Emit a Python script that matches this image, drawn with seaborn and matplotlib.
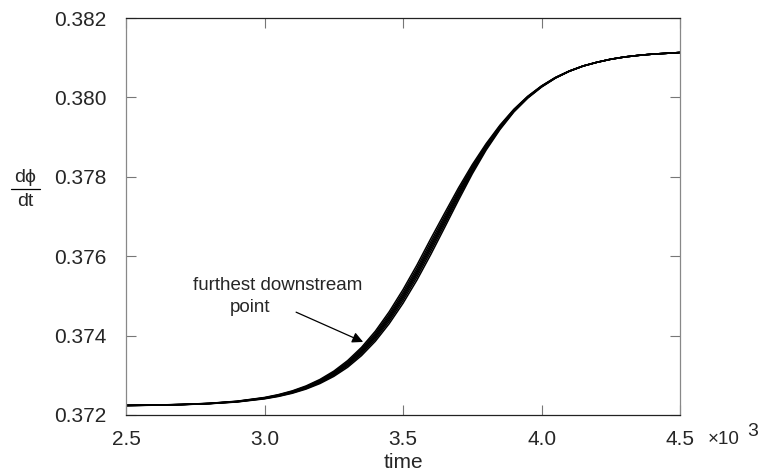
import numpy as np
import pandas as pd
import matplotlib
matplotlib.use("Agg")
import matplotlib.pyplot as plt
import seaborn as sns

# time axis in units of 10^3
time = [2.5, 2.6, 2.7, 2.8, 2.9, 3.0, 3.05, 3.1, 3.15, 3.2, 3.25, 3.3, 3.35, 3.4,
        3.45, 3.5, 3.55, 3.6, 3.65, 3.7, 3.75, 3.8, 3.85, 3.9, 3.95, 4.0, 4.05,
        4.1, 4.15, 4.2, 4.25, 4.3, 4.35, 4.4, 4.5]

curve_1 = [0.372241, 0.372250, 0.372266, 0.372294, 0.372347, 0.372441, 0.372513,
           0.372607, 0.372732, 0.372895, 0.373104, 0.373370, 0.373703, 0.374111,
           0.374600, 0.375159, 0.375775, 0.376439, 0.377083, 0.377719, 0.378307,
           0.378835, 0.379302, 0.379701, 0.380028, 0.380291, 0.380503, 0.380665,
           0.380793, 0.380885, 0.380962, 0.381019, 0.381059, 0.381090, 0.381131]
curve_2 = [0.372241, 0.372249, 0.372265, 0.372292, 0.372343, 0.372434, 0.372504,
           0.372595, 0.372716, 0.372874, 0.373078, 0.373336, 0.373662, 0.374060,
           0.374540, 0.375090, 0.375699, 0.376360, 0.377011, 0.377657, 0.378261,
           0.378803, 0.379280, 0.379687, 0.380019, 0.380285, 0.380499, 0.380664,
           0.380792, 0.380885, 0.380962, 0.381019, 0.381059, 0.381090, 0.381131]
curve_3 = [0.372240, 0.372248, 0.372264, 0.372290, 0.372340, 0.372429, 0.372496,
           0.372585, 0.372703, 0.372857, 0.373056, 0.373308, 0.373627, 0.374018,
           0.374490, 0.375033, 0.375636, 0.376293, 0.376950, 0.377605, 0.378222,
           0.378776, 0.379262, 0.379676, 0.380011, 0.380280, 0.380496, 0.380662,
           0.380791, 0.380885, 0.380962, 0.381019, 0.381059, 0.381090, 0.381131]
curve_4 = [0.372240, 0.372248, 0.372263, 0.372289, 0.372337, 0.372424, 0.372490,
           0.372577, 0.372692, 0.372843, 0.373038, 0.373286, 0.373599, 0.373984,
           0.374450, 0.374987, 0.375586, 0.376240, 0.376902, 0.377564, 0.378191,
           0.378755, 0.379247, 0.379667, 0.380005, 0.380276, 0.380494, 0.380661,
           0.380791, 0.380885, 0.380962, 0.381019, 0.381059, 0.381090, 0.381131]
curve_5 = [0.372240, 0.372248, 0.372262, 0.372288, 0.372334, 0.372419, 0.372484,
           0.372569, 0.372681, 0.372829, 0.373020, 0.373264, 0.373571, 0.373950,
           0.374410, 0.374941, 0.375536, 0.376187, 0.376854, 0.377523, 0.378160,
           0.378734, 0.379232, 0.379658, 0.379999, 0.380272, 0.380492, 0.380660,
           0.380791, 0.380885, 0.380962, 0.381019, 0.381059, 0.381090, 0.381131]
curve_6 = [0.372239, 0.372247, 0.372261, 0.372286, 0.372331, 0.372414, 0.372476,
           0.372559, 0.372668, 0.372812, 0.372998, 0.373236, 0.373536, 0.373908,
           0.374360, 0.374884, 0.375473, 0.376121, 0.376794, 0.377471, 0.378121,
           0.378707, 0.379214, 0.379647, 0.379991, 0.380267, 0.380489, 0.380658,
           0.380790, 0.380885, 0.380962, 0.381019, 0.381059, 0.381090, 0.381131]
curve_7 = [0.372239, 0.372246, 0.372260, 0.372284, 0.372327, 0.372407, 0.372467,
           0.372547, 0.372653, 0.372792, 0.372972, 0.373202, 0.373495, 0.373857,
           0.374300, 0.374815, 0.375397, 0.376041, 0.376721, 0.377409, 0.378075,
           0.378675, 0.379192, 0.379633, 0.379982, 0.380261, 0.380485, 0.380657,
           0.380789, 0.380885, 0.380962, 0.381019, 0.381059, 0.381090, 0.381131]

curves = [curve_1, curve_2, curve_3, curve_4, curve_5, curve_6, curve_7]

df = pd.concat(
    [pd.DataFrame({"time": time, "dphidt": c, "point": i}) for i, c in enumerate(curves)],
    ignore_index=True,
)

sns.set_style("ticks")
plt.rcParams["font.family"] = ["Liberation Sans", "DejaVu Sans"]

fig = plt.figure(figsize=(7.65, 4.74), dpi=100)
ax = fig.add_axes([0.1647, 0.1245, 0.7243, 0.8375])

sns.lineplot(
    data=df, x="time", y="dphidt", hue="point", units="point", estimator=None,
    palette=["black"] * len(curves), legend=False, linewidth=1.1, ax=ax,
)

ax.set_xlim(2.5, 4.5)
ax.set_ylim(0.372, 0.382)
ax.set_xticks([2.5, 3.0, 3.5, 4.0, 4.5])
ax.set_xticklabels(["2.5", "3.0", "3.5", "4.0", "4.5"])
ax.set_yticks([0.372, 0.374, 0.376, 0.378, 0.380, 0.382])
ax.set_yticklabels(["0.372", "0.374", "0.376", "0.378", "0.380", "0.382"])
ax.set_xlabel("")
ax.set_ylabel("")

ax.tick_params(axis="both", direction="in", length=7, width=0.8, color="#777777",
               labelsize=15, top=True, right=True)
ax.tick_params(axis="x", pad=11)
ax.tick_params(axis="y", pad=14)
for side in ["left", "right"]:
    ax.spines[side].set_color("#888888")
    ax.spines[side].set_linewidth(0.9)
for side in ["top", "bottom"]:
    ax.spines[side].set_color("#222222")
    ax.spines[side].set_linewidth(0.9)

# annotation
ax.text(3.049, 0.37527, "furthest downstream", ha="center", va="center", fontsize=13.5)
ax.text(2.948, 0.37470, "point", ha="center", va="center", fontsize=13.5)
ax.annotate("", xy=(3.356, 0.37384), xytext=(3.114, 0.37459),
            arrowprops=dict(arrowstyle="-|>", color="black", lw=0.9,
                            mutation_scale=16, shrinkA=0, shrinkB=0))

# axis labels
fig.text(403 / 765, 1 - 463 / 474, "time", ha="center", va="center", fontsize=15)
fig.text(708 / 765, 1 - 439 / 474, "×10", ha="left", va="center", fontsize=13.5)
fig.text(747 / 765, 1 - 432 / 474, "3", ha="left", va="center", fontsize=14)

fig.text(25 / 765, 1 - 177 / 474, "dϕ", ha="center", va="center", fontsize=14)
fig.text(25 / 765, 1 - 202 / 474, "dt", ha="center", va="center", fontsize=14)
fig.add_artist(plt.Line2D([11 / 765, 40 / 765], [1 - 189 / 474, 1 - 189 / 474],
                          color="black", lw=0.9))

fig.savefig("out.png", dpi=100)
